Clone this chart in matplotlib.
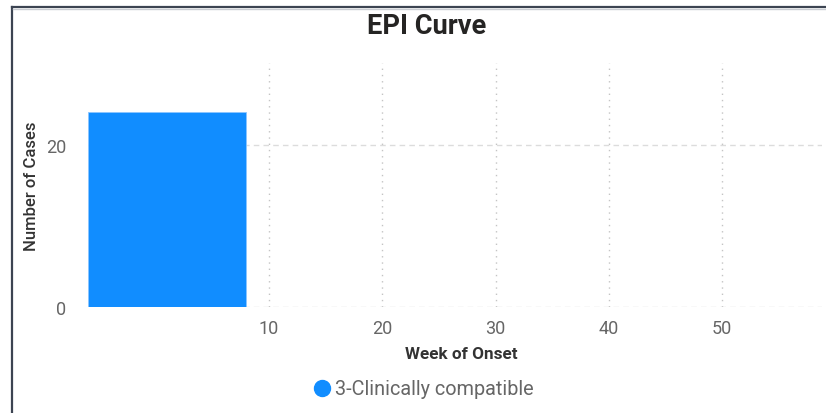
import numpy as np
import matplotlib.pyplot as plt
from matplotlib.lines import Line2D

# data
weeks = [1]
cases = [24]
series_name = "3-Clinically compatible"
x_ticks = [10, 20, 30, 40, 50]
y_ticks = [0, 20]

bar_color = "#118DFF"
plt.rcParams['font.family'] = ['Roboto', 'DejaVu Sans']

fig = plt.figure(figsize=(8.26, 4.14), dpi=100)
ax = fig.add_axes([88.3 / 826, 1 - 307.7 / 414, (822 - 88.3) / 826, (307.7 - 64) / 414])

ax.bar(weeks, cases, width=13.9, color=bar_color, edgecolor="#8cc6ff", linewidth=0.6,
       zorder=3, label=series_name)

ax.set_xlim(-5.95, 58.8)
ax.set_ylim(0, 30.1)
ax.set_xticks(x_ticks)
ax.set_yticks(y_ticks)
ax.tick_params(axis='both', length=0, labelsize=13, labelcolor="#666666")
ax.tick_params(axis='x', pad=9)
ax.tick_params(axis='y', pad=16)

for s in ax.spines.values():
    s.set_visible(False)

# gridlines
for xv in x_ticks:
    ax.axvline(xv, color="#c4c4c4", linestyle=(0, (1, 3.5)), linewidth=1, zorder=1)
for yv in y_ticks:
    ax.axhline(yv, color="#dcdcdc", linestyle=(0, (4, 3)), linewidth=1, zorder=1)

fig.text(427 / 826, 1 - 27 / 414, "EPI Curve", ha='center', va='center',
         fontsize=19.6, fontweight='bold', color="#252423")
fig.text(461 / 826, 1 - 355 / 414, "Week of Onset", ha='center', va='center',
         fontsize=12.3, fontweight='bold', color="#333333")
fig.text(31 / 826, 1 - 186 / 414, "Number of Cases", ha='center', va='center',
         rotation=90, fontsize=12, fontweight='medium', color="#333333")

handle = Line2D([], [], marker='o', linestyle='none', markersize=11.5,
                markerfacecolor=bar_color, markeredgecolor=bar_color)
fig.legend([handle], [series_name], loc='center', bbox_to_anchor=(424 / 826, 1 - 390 / 414),
           frameon=False, fontsize=14.3, labelcolor="#666666", handletextpad=0.25,
           handlelength=0.8, borderpad=0)

# visual frame at top and left
fig.add_artist(Line2D([11.5 / 826, 11.5 / 826], [0, 1 - 7.5 / 414], color="#3c4452",
                      linewidth=1.6, transform=fig.transFigure))
fig.add_artist(Line2D([11.5 / 826, 1], [1 - 7.5 / 414, 1 - 7.5 / 414], color="#3c4452",
                      linewidth=1.6, transform=fig.transFigure))
fig.add_artist(Line2D([12.5 / 826, 1], [1 - 9.5 / 414, 1 - 9.5 / 414], color="#c9ccd2",
                      linewidth=1, transform=fig.transFigure))

fig.savefig("out.png", dpi=100)
